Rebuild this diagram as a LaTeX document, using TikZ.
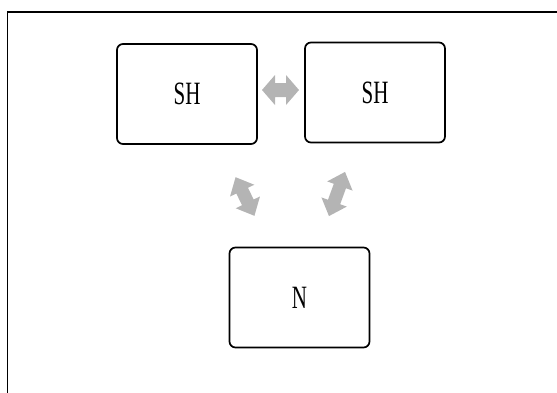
\documentclass[tikz,border=0pt]{standalone}
\usepackage{fontspec}
\setmainfont{Liberation Serif}
\definecolor{arrowgray}{RGB}{180,180,180}
\newcommand\blockdbl[7]{% cx, cy, angle, L, W, S, H
  \begin{scope}[shift={(#1,#2)}, rotate=#3]
    \fill[arrowgray] (-#4/2,0) -- (-#4/2+#7,#5/2) -- (-#4/2+#7,#6/2) -- (#4/2-#7,#6/2)
      -- (#4/2-#7,#5/2) -- (#4/2,0) -- (#4/2-#7,-#5/2) -- (#4/2-#7,-#6/2)
      -- (-#4/2+#7,-#6/2) -- (-#4/2+#7,-#5/2) -- cycle;
  \end{scope}}
\begin{document}
\begin{tikzpicture}[x=1pt,y=-1pt,
  box/.style={draw, line width=1.7pt, rounded corners=6pt, minimum width=140pt,
    minimum height=100pt, inner sep=0pt, font=\fontsize{21}{21}\selectfont},
  frame/.style={draw, line width=1.7pt}]
\useasboundingbox (0,0) rectangle (557,392);
\draw[frame] (7.5,12) rectangle (600,430);
\node[box] (sh1) at (187,94) {\scalebox{1}[1.55]{SH}};
\node[box] (sh2) at (375,92.5) {\scalebox{1}[1.55]{SH}};
\node[box] (n) at (299.5,297.5) {\scalebox{1}[1.55]{N}};
\blockdbl{280.5}{90}{0}{37}{30}{14}{13}
\blockdbl{245}{196.5}{-64}{43}{27}{13}{15}
\blockdbl{337}{194}{70}{47}{27}{13}{15}
\end{tikzpicture}
\end{document}
